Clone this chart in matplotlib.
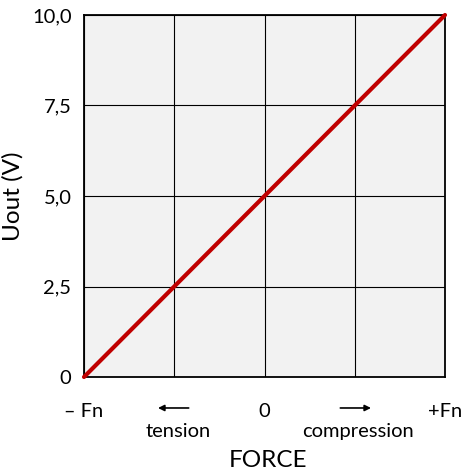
import numpy as np
import matplotlib.pyplot as plt

plt.rcParams['font.family'] = ['Lato', 'DejaVu Sans']

force = [-1, 1]
uout = [0, 10]
x_ticks = [-1, -0.5, 0, 0.5, 1]
x_labels = ['\u2013 Fn', '', '0', '', '+Fn']
y_ticks = [0, 2.5, 5, 7.5, 10]
y_labels = ['0', '2,5', '5,0', '7,5', '10,0']

fig = plt.figure(figsize=(4.75, 4.73), dpi=100)
ax = fig.add_axes([84 / 475, 1 - 377 / 473, 361 / 475, 362 / 473])
ax.set_facecolor('#F2F2F2')

ax.plot(force, uout, color='#C00000', lw=3, solid_capstyle='round', zorder=3, clip_on=False)

ax.set_xlim(-1, 1)
ax.set_ylim(0, 10)
ax.set_xticks(x_ticks, x_labels, fontsize=14.5)
ax.set_yticks(y_ticks, y_labels, fontsize=14.5)
ax.tick_params(axis='x', length=0, pad=19)
ax.tick_params(axis='y', length=0, pad=9)
ax.grid(True, color='black', lw=0.8)
ax.set_axisbelow(True)
for s in ax.spines.values():
    s.set_linewidth(1.3)

fig.text(13 / 475, 1 - 196 / 473, 'Uout (V)', rotation=90, ha='center', va='center', fontsize=17.5)
fig.text(268 / 475, 1 - 460 / 473, 'FORCE', ha='center', va='center', fontsize=17.5)

tr = ax.get_xaxis_transform()
arrow = dict(arrowstyle='-|>', color='black', lw=1.2, mutation_scale=9, shrinkA=0, shrinkB=0)
ax.annotate('', xy=(-0.59, -0.0856), xytext=(-0.42, -0.0856), xycoords=tr, textcoords=tr,
            arrowprops=arrow)
ax.annotate('', xy=(0.59, -0.0856), xytext=(0.42, -0.0856), xycoords=tr, textcoords=tr,
            arrowprops=arrow)
ax.text(-0.48, -0.15, 'tension', transform=tr, ha='center', va='center', fontsize=14.5)
ax.text(0.52, -0.15, 'compression', transform=tr, ha='center', va='center', fontsize=14.5)

fig.savefig('out.png', dpi=100)
